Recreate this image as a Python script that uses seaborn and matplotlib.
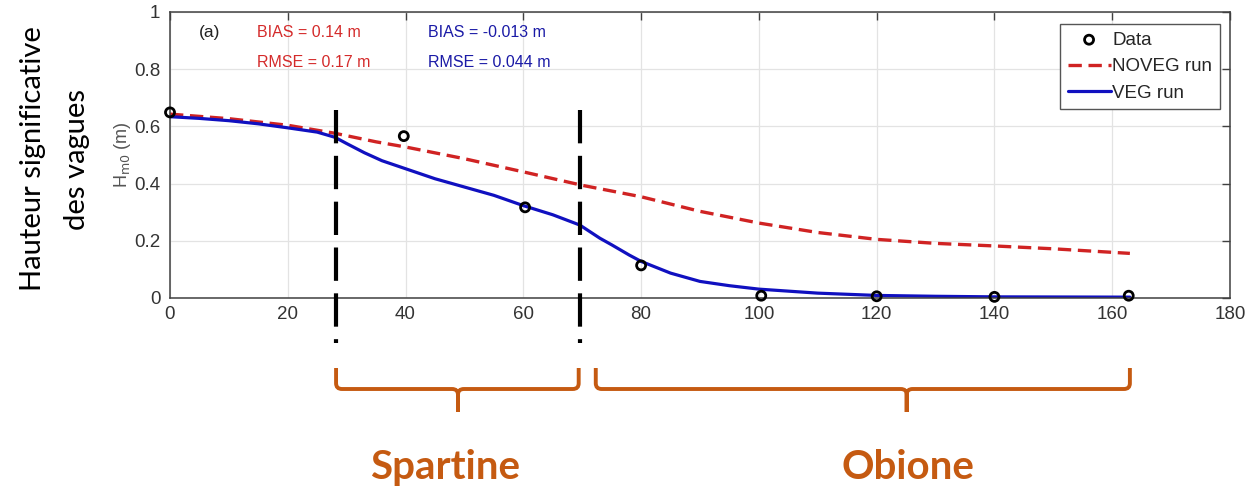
import numpy as np
import pandas as pd
import matplotlib
matplotlib.use("Agg")
import matplotlib.pyplot as plt
import matplotlib.transforms as mtransforms
from matplotlib.path import Path
from matplotlib.patches import PathPatch
import seaborn as sns

# measured wave height along the transect
data_x = [0, 39.7, 60.3, 80.0, 100.4, 120.0, 140.0, 162.8]
data_h = [0.649, 0.566, 0.317, 0.114, 0.008, 0.006, 0.004, 0.008]

# NOVEG run (dashed red)
noveg_x = [0, 10, 20, 28, 35, 40, 50, 60, 70, 80, 90, 100, 110, 120, 130, 140, 150, 163]
noveg_h = [0.643, 0.627, 0.604, 0.576, 0.546, 0.528, 0.487, 0.441, 0.394, 0.354,
           0.303, 0.262, 0.229, 0.205, 0.191, 0.182, 0.172, 0.156]

# VEG run (blue)
veg_x = [0, 5, 10, 15, 20, 25, 28, 30, 33, 36, 40, 45, 50, 55, 60, 65, 69.6, 73,
         75, 78, 80, 85, 90, 95, 100, 110, 120, 130, 140, 163]
veg_h = [0.634, 0.628, 0.620, 0.609, 0.595, 0.580, 0.562, 0.540, 0.508, 0.480,
         0.452, 0.417, 0.388, 0.359, 0.323, 0.291, 0.255, 0.209, 0.186, 0.150,
         0.128, 0.087, 0.058, 0.043, 0.031, 0.017, 0.009, 0.006, 0.004, 0.003]

# vegetation zones
zone_edges = [28.2, 69.6]
zone_names = ["Spartine", "Obione"]
zone_spans = [(28.2, 69.4), (72.3, 163.0)]
zone_tips = [48.9, 125.1]
zone_label_x = [46.7, 125.3]

x_ticks = [0, 20, 40, 60, 80, 100, 120, 140, 160, 180]
y_ticks = [0, 0.2, 0.4, 0.6, 0.8, 1.0]
y_ticklabels = ["0", "0.2", "0.4", "0.6", "0.8", "1"]

RED = "#D02323"
BLUE = "#1010C0"
ORANGE = "#C55A11"
AXC = "#404040"

sns.set_theme(style="whitegrid")
plt.rcParams["font.family"] = ["Liberation Sans", "DejaVu Sans"]
plt.rcParams["axes.edgecolor"] = AXC
plt.rcParams["grid.color"] = "#e3e3e3"
plt.rcParams["grid.linewidth"] = 0.9

fig = plt.figure(figsize=(12.52, 4.92), dpi=100)
ax = fig.add_axes([170 / 1252, 1 - 298 / 492, 1060 / 1252, 286 / 492])

sns.scatterplot(x=data_x, y=data_h, ax=ax, marker="o", s=42, color="none",
                edgecolor="black", linewidth=2, label="Data", zorder=5,
                clip_on=False)
sns.lineplot(x=noveg_x, y=noveg_h, ax=ax, color=RED, lw=2.4,
             linestyle=(0, (4, 2)), label="NOVEG run")
sns.lineplot(x=veg_x, y=veg_h, ax=ax, color=BLUE, lw=2.3, label="VEG run")

ax.set_xlim(0, 180)
ax.set_ylim(0, 1)
ax.set_xticks(x_ticks)
ax.set_yticks(y_ticks, labels=y_ticklabels)
ax.tick_params(direction="in", top=True, right=True, length=6, width=1,
               color=AXC, labelcolor="#333333", labelsize=13.5, pad=7)
ax.tick_params(axis="x", pad=6)
for sp in ax.spines.values():
    sp.set_color(AXC)
    sp.set_linewidth(1.1)
ax.set_xlabel("")
ax.set_ylabel("")

ax.text(-0.045, 0.5, r"H$_{\rm m0}$ (m)", transform=ax.transAxes, rotation=90,
        ha="center", va="center", fontsize=13, color="#555555")

ax.text(0.037, 0.927, "(a)", transform=ax.transAxes, fontsize=12.5,
        ha="center", va="center", color="#222222")
ax.text(0.082, 0.927, "BIAS = 0.14 m", transform=ax.transAxes, fontsize=11.5,
        va="center", color="#D42A2A")
ax.text(0.082, 0.825, "RMSE = 0.17 m", transform=ax.transAxes, fontsize=11.5,
        va="center", color="#D42A2A")
ax.text(0.243, 0.927, "BIAS = -0.013 m", transform=ax.transAxes, fontsize=11.5,
        va="center", color="#1A1AA6")
ax.text(0.243, 0.825, "RMSE = 0.044 m", transform=ax.transAxes, fontsize=11.5,
        va="center", color="#1A1AA6")

leg = ax.legend(loc="upper right", bbox_to_anchor=(1220 / 1252, 1 - 24 / 492),
                bbox_transform=fig.transFigure, borderaxespad=0, fontsize=13.5,
                frameon=True, fancybox=False, framealpha=1, edgecolor="#555555",
                handlelength=2.3, handletextpad=0.1, borderpad=0.4,
                labelspacing=0.5)
leg.get_frame().set_linewidth(1.0)

# zone boundaries (extend below the axes)
trans = mtransforms.blended_transform_factory(ax.transData, ax.transAxes)
for xe in zone_edges:
    ax.plot([xe, xe], [(298 - 110) / 286, (298 - 343) / 286], transform=trans,
            color="black", lw=3, linestyle=(0, (8, 3)), clip_on=False, zorder=6)

# curly brackets below the axes
yt, yh, yb = -70 / 286, -91 / 286, -114 / 286
rx, ry = 1.0, 0.02
for (x0, x1), xc, xl, name in zip(zone_spans, zone_tips, zone_label_x, zone_names):
    verts = [(x0, yt), (x0, yh + ry), (x0, yh), (x0 + rx, yh), (xc - rx, yh),
             (xc, yh), (xc, yh - ry), (xc, yb),
             (x1, yt), (x1, yh + ry), (x1, yh), (x1 - rx, yh), (xc + rx, yh),
             (xc, yh), (xc, yh - ry), (xc, yb)]
    codes = [Path.MOVETO, Path.LINETO, Path.CURVE3, Path.CURVE3, Path.LINETO,
             Path.CURVE3, Path.CURVE3, Path.LINETO] * 2
    patch = PathPatch(Path(verts, codes), transform=trans, fill=False,
                      edgecolor=ORANGE, lw=2.8, clip_on=False, capstyle="butt")
    ax.add_patch(patch)
    ax.text(xl, -0.591, name, transform=trans,
            ha="center", va="center", fontsize=29, fontweight="bold",
            color=ORANGE, family=["Lato", "DejaVu Sans"])

fig.text(33 / 1252, 1 - 159 / 492, "Hauteur significative", rotation=90,
         ha="center", va="center", fontsize=21, color="black",
         family=["Lato", "DejaVu Sans"])
fig.text(77 / 1252, 1 - 159 / 492, "des vagues", rotation=90,
         ha="center", va="center", fontsize=21, color="black",
         family=["Lato", "DejaVu Sans"])

fig.savefig("out.png", dpi=100)
